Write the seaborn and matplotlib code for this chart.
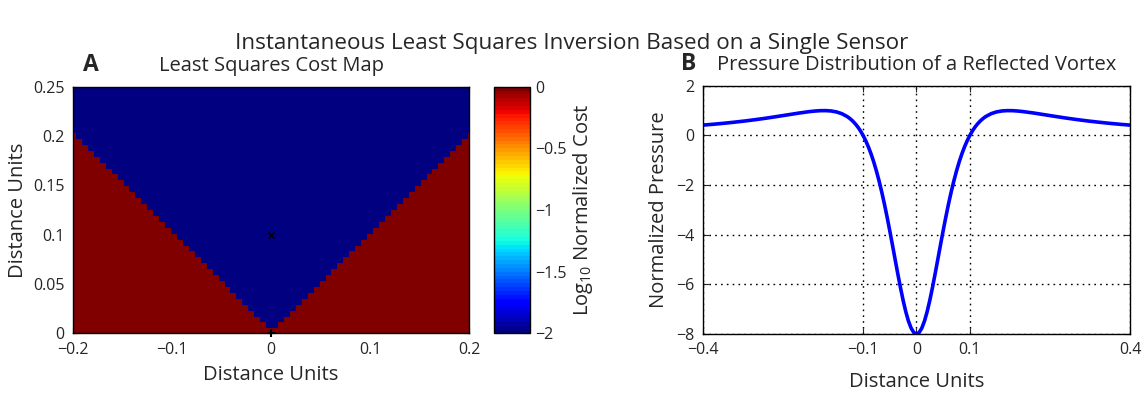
import numpy as np
import pandas as pd
import matplotlib
matplotlib.use("Agg")
import matplotlib.pyplot as plt
import seaborn as sns

# === 1. Data ===
# cost map: cell centres every 0.006 units, first column at x=-0.2, first row at y=0.002
map_x0, map_y0, map_step = -0.2, 0.002, 0.006
n_rows = 42
# number of red (high cost) cells counted from the bottom, one entry per column, left to right
red_rows = [34, 33, 32, 31, 30, 29, 28, 27, 26, 25, 24, 23, 22, 21, 20, 19, 18,
            17, 16, 15, 14, 13, 12, 11, 10, 9, 8, 7, 6, 5, 4, 3, 2, 1,
            1, 2, 3, 4, 5, 6, 7, 8, 9, 10, 11, 12, 13, 14, 15, 16, 17,
            18, 19, 20, 21, 22, 23, 24, 25, 26, 27, 28, 29, 30, 31, 32, 33, 34]
cost_low, cost_high = -2.0, 0.0
source_x, source_y = 0.0, 0.1
sensor_x, sensor_y = 0.0, 0.0

map_xticks = [-0.2, -0.1, 0, 0.1, 0.2]
map_xlabels = ["\u22120.2", "\u22120.1", "0", "0.1", "0.2"]
map_yticks = [0, 0.05, 0.1, 0.15, 0.2, 0.25]
map_ylabels = ["0", "0.05", "0.1", "0.15", "0.2", "0.25"]
cbar_ticks = [-2, -1.5, -1, -0.5, 0]
cbar_labels = ["\u22122", "\u22121.5", "\u22121", "\u22120.5", "0"]

# pressure along the wall
pos = [-0.40, -0.38, -0.36, -0.34, -0.32, -0.30, -0.28, -0.25, -0.22, -0.20,
       -0.19, -0.18, -0.17, -0.16, -0.15, -0.14, -0.13, -0.125, -0.12, -0.115,
       -0.11, -0.105, -0.10, -0.095, -0.09, -0.085, -0.08, -0.075, -0.07, -0.065,
       -0.06, -0.055, -0.05, -0.045, -0.04, -0.035, -0.03, -0.025, -0.02, -0.015,
       -0.01, -0.005, 0.0,
       0.005, 0.01, 0.015, 0.02, 0.025, 0.03, 0.035, 0.04, 0.045, 0.05,
       0.055, 0.06, 0.065, 0.07, 0.075, 0.08, 0.085, 0.09, 0.095, 0.10,
       0.105, 0.11, 0.115, 0.12, 0.125, 0.13, 0.14, 0.15, 0.16, 0.17,
       0.18, 0.19, 0.20, 0.22, 0.25, 0.28, 0.30, 0.32, 0.34, 0.36, 0.38, 0.40]
pressure = [0.415, 0.451, 0.491, 0.536, 0.585, 0.640, 0.700, 0.799, 0.901, 0.960,
            0.982, 0.997, 0.999, 0.985, 0.947, 0.877, 0.763, 0.685, 0.591, 0.478,
            0.344, 0.186, 0.0, -0.216, -0.464, -0.748, -1.071, -1.434, -1.838, -2.283,
            -2.768, -3.289, -3.840, -4.412, -4.994, -5.571, -6.127, -6.644, -7.101, -7.480,
            -7.764, -7.940, -8.0,
            -7.940, -7.764, -7.480, -7.101, -6.644, -6.127, -5.571, -4.994, -4.412, -3.840,
            -3.289, -2.768, -2.283, -1.838, -1.434, -1.071, -0.748, -0.464, -0.216, 0.0,
            0.186, 0.344, 0.478, 0.591, 0.685, 0.763, 0.877, 0.947, 0.985, 0.999,
            0.997, 0.982, 0.960, 0.901, 0.799, 0.700, 0.640, 0.585, 0.536, 0.491, 0.451, 0.415]
line_xticks = [-0.4, -0.1, 0, 0.1, 0.4]
line_xlabels = ["\u22120.4", "\u22120.1", "0", "0.1", "0.4"]
line_yticks = [-8, -6, -4, -2, 0, 2]
line_ylabels = ["\u22128", "\u22126", "\u22124", "\u22122", "0", "2"]

# === 2. Style ===
sns.set_style("ticks")
plt.rcParams["font.family"] = ["Open Sans", "DejaVu Sans"]
plt.rcParams["axes.linewidth"] = 1.0

# cost grid from the boundary counts
n_cols = len(red_rows)
cost = np.full((n_rows, n_cols), cost_low)
for k, h in enumerate(red_rows):
    cost[:h, k] = cost_high
cost_df = pd.DataFrame(cost)


def to_col(x):
    return (x - map_x0) / map_step + 0.5


def to_row(y):
    return (y - map_y0) / map_step + 0.5


fig = plt.figure(figsize=(11.43, 3.94), dpi=100)
ax1 = fig.add_axes([0.0639, 0.154, 0.3465, 0.626])
cax = fig.add_axes([0.4322, 0.154, 0.0315, 0.626])
ax2 = fig.add_axes([0.6150, 0.1523, 0.3736, 0.630])

tick_fs = 11.5
label_fs = 14.5

# === 3. Cost map ===
jet64 = matplotlib.colormaps["jet"].resampled(64)
sns.heatmap(cost_df, ax=ax1, cbar_ax=cax, cmap=jet64, vmin=-2, vmax=0,
            xticklabels=False, yticklabels=False)
ax1.set_xlim(to_col(-0.2), to_col(0.2))
ax1.set_ylim(to_row(0), to_row(0.25))
ax1.plot([to_col(source_x)], [to_row(source_y)], marker="x", color="k",
         markersize=5, markeredgewidth=1.0, linestyle="none")
ax1.plot([to_col(sensor_x)], [to_row(sensor_y)], marker="+", color="k",
         markersize=6, markeredgewidth=1.5, linestyle="none", clip_on=False)
ax1.set_xticks([to_col(v) for v in map_xticks])
ax1.set_xticklabels(map_xlabels, fontsize=tick_fs, rotation=0)
ax1.set_yticks([to_row(v) for v in map_yticks])
ax1.set_yticklabels(map_ylabels, fontsize=tick_fs, rotation=0)
for s in ax1.spines.values():
    s.set_visible(True)
    s.set_color("k")
    s.set_linewidth(1.0)
ax1.tick_params(direction="in", top=True, right=True, length=4, width=0.8, pad=6)
ax1.set_xlabel("Distance Units", fontsize=label_fs)
ax1.set_ylabel("Distance Units", fontsize=label_fs)
ax1.xaxis.set_label_coords(0.5, -0.13)
ax1.yaxis.set_label_coords(-0.113, 0.5)
ax1.set_title("Least Squares Cost Map", fontsize=label_fs, pad=11)

cb = ax1.collections[0].colorbar
cb.set_ticks(cbar_ticks)
cb.set_ticklabels(cbar_labels)
cb.outline.set_linewidth(1.0)
cb.outline.set_edgecolor("k")
cax.tick_params(direction="in", left=True, right=True, length=4, width=0.8,
                labelsize=tick_fs, pad=4)
cb.set_label("Log$_\\mathregular{10}$ Normalized Cost", fontsize=label_fs)
cax.yaxis.set_label_coords(2.15, 0.5)

# === 4. Pressure curve ===
sns.lineplot(x=pos, y=pressure, ax=ax2, color="#0000ff", linewidth=2.6, sort=False)
ax2.set_xlim(-0.4, 0.4)
ax2.set_ylim(-8, 2)
ax2.set_xticks(line_xticks)
ax2.set_xticklabels(line_xlabels, fontsize=tick_fs)
ax2.set_yticks(line_yticks)
ax2.set_yticklabels(line_ylabels, fontsize=tick_fs)
ax2.grid(True, color="k", linestyle=(0, (1.2, 3.0)), linewidth=1.0)
for s in ax2.spines.values():
    s.set_visible(True)
    s.set_color("k")
    s.set_linewidth(1.0)
ax2.tick_params(direction="in", top=True, right=True, length=4, width=0.8, pad=6)
ax2.set_xlabel("Distance Units", fontsize=label_fs)
ax2.set_ylabel("Normalized Pressure", fontsize=label_fs)
ax2.xaxis.set_label_coords(0.5, -0.155)
ax2.yaxis.set_label_coords(-0.08, 0.5)
ax2.set_title("Pressure Distribution of a Reflected Vortex", fontsize=label_fs, pad=11)

# === 5. Labels ===
fig.text(90.7 / 1143, 1 - 65 / 394, "A", fontsize=16.5, fontweight="bold",
         ha="center", va="center")
fig.text(689 / 1143, 1 - 64 / 394, "B", fontsize=16.5, fontweight="bold",
         ha="center", va="center")
fig.suptitle("Instantaneous Least Squares Inversion Based on a Single Sensor",
             fontsize=16.2, y=1 - 43 / 394, va="center")

fig.savefig("out.png", dpi=100)
